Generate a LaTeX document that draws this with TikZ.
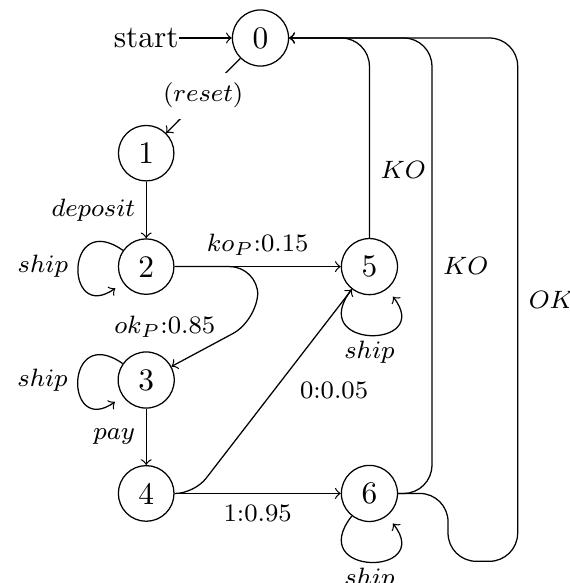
\documentclass[tikz,border=0pt]{standalone}
\usetikzlibrary{positioning, calc}

\begin{document}
\begin{tikzpicture}[
  on grid,
  node distance=1.27cm,
  state/.style={draw, circle},
  trans/.style={->},
  lbl/.style={font=\footnotesize},
  selfloop/.style={trans, shorten >=3pt},
]

\useasboundingbox (-2.917,-6.103) rectangle (3.455,0.4255);

\node[state] (n0) at (0,0) {0};
\node[inner sep=0pt, left=1.28cm of n0] (start) {start};
\node[state, below left=1.29cm and 1.28cm of n0] (n1) {1};
\node[state, below=of n1] (n2) {2};
\node[state, below=of n2] (n3) {3};
\node[state, below=of n3] (n4) {4};
\node[state, right=2.5cm of n2] (n5) {5};
\node[state, right=2.5cm of n4] (n6) {6};

\coordinate (split) at ($(n2)!0.5!(n5)$);
\coordinate (splitdown) at ($(split)+(0,-0.6)$);
\coordinate (lift) at ($(n4)+(0.54,0)$);
\coordinate (ko) at ($(n6)+(0.70,0)$);
\coordinate (okdown) at ($(n6)+(0.88,0)$);
\coordinate (okbot) at ($(n6)+(0.88,-0.76)$);
\coordinate (okup) at ($(n6)+(1.66,-0.76)$);

\draw[trans] (start) -- (n0);
\draw[trans] (n0) -- node[lbl, fill=white] {$(reset)$} (n1);
\draw[trans] (n1) -- node[lbl, left] {$deposit$} (n2);
\draw[trans] (n3) -- node[lbl, left] {$pay$} (n4);
\draw[trans] (n2) -- node[lbl, above] {$ko_P$:0.15} (n5);
\draw[trans] (n4) -- node[lbl, below] {1:0.95} (n6);

\draw[trans, rounded corners=9pt] (n2) -- (split) -- (splitdown) [rounded corners=4pt] -- node[lbl, above left, inner sep=1pt, pos=0.45] {$ok_P$:0.85} (n3);
\draw[trans, rounded corners=6pt] (n4) -- (lift) -- node[lbl, below right, pos=0.6] {0:0.05} (n5);

\draw[selfloop] (n2) to[out=145, in=215, min distance=8mm] node[lbl, left] {$ship$} (n2);
\draw[selfloop] (n3) to[out=145, in=215, min distance=8mm] node[lbl, left] {$ship$} (n3);
\draw[selfloop] (n5) to[out=-128, in=-52, min distance=8.6mm] node[lbl, below, inner sep=2pt] {$ship$} (n5);
\draw[selfloop] (n6) to[out=-128, in=-52, min distance=8.6mm] node[lbl, below, inner sep=2pt] {$ship$} (n6);

\draw[trans, rounded corners=9pt] (n5) -- node[lbl, right, pos=0.34] {$KO$} (n5 |- n0) -- (n0);
\draw[trans, rounded corners=9pt] (n6) -- (ko) -- node[lbl, right] {$KO$} (ko |- n0) -- (n0);
\draw[trans, rounded corners=9pt] (n6) -- (okdown) -- (okbot) -- (okup) -- node[lbl, right] {$OK$} (okup |- n0) -- (n0);

\end{tikzpicture}
\end{document}
